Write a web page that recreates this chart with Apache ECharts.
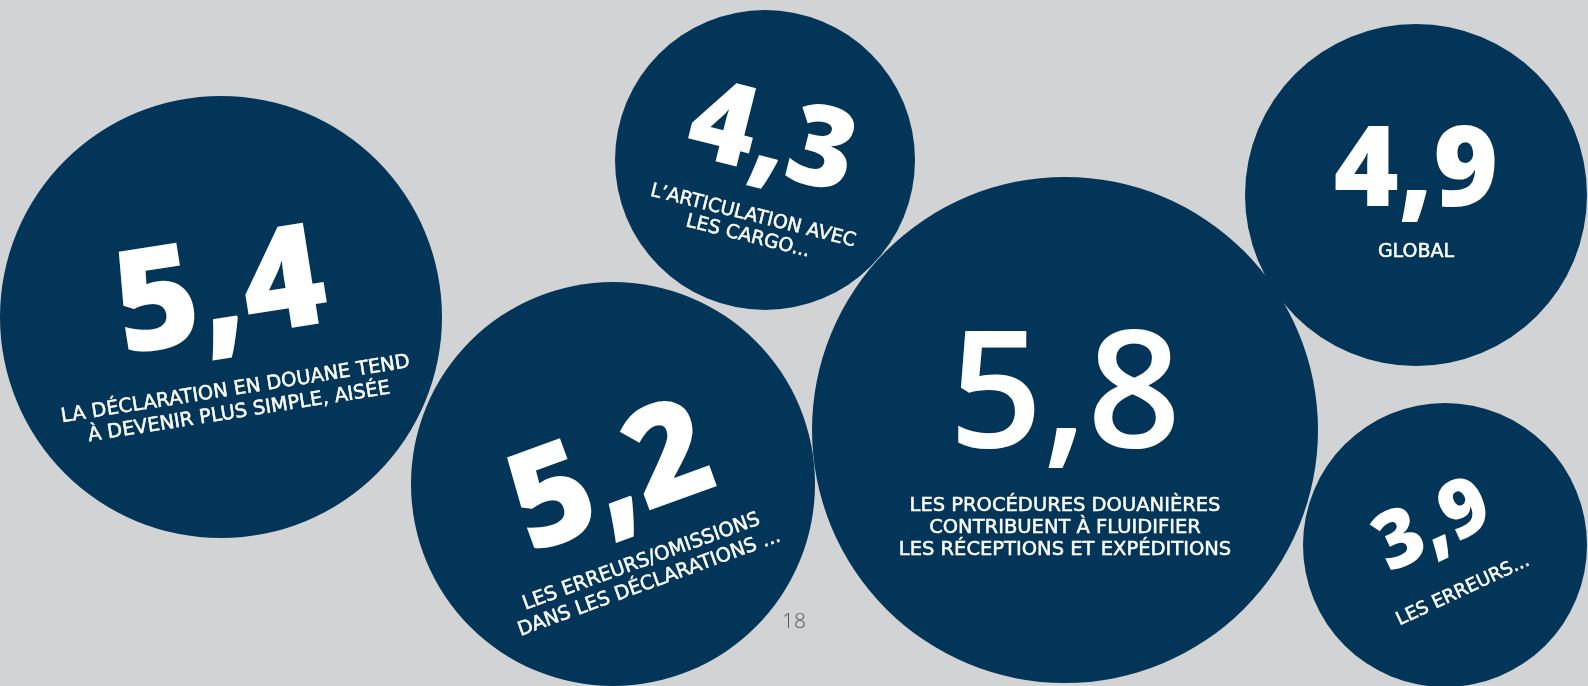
<!DOCTYPE html>
<html>
<head>
<meta charset="utf-8">
<script src="https://cdn.jsdelivr.net/npm/echarts@6/dist/echarts.min.js"></script>
<style>
  html, body { margin: 0; padding: 0; background: #d1d3d4; }
  #chart { width: 1588px; height: 686px; }
</style>
</head>
<body>
<div id="chart"></div>
<script>
// Average score per statement
const scores = [5.4, 5.2, 4.3, 5.8, 4.9, 3.9];
const statements = [
  'LA DÉCLARATION EN DOUANE TEND\nÀ DEVENIR PLUS SIMPLE, AISÉE',
  'LES ERREURS/OMISSIONS\nDANS LES DÉCLARATIONS ...',
  'L’ARTICULATION AVEC\nLES CARGO...',
  'LES PROCÉDURES DOUANIÈRES\nCONTRIBUENT À FLUIDIFIER\nLES RÉCEPTIONS ET EXPÉDITIONS',
  'GLOBAL',
  'LES ERREURS...'
];
const pageNumber = '18';

// Placement of each bubble on the page: centre, radius, text tilt and type sizes
const bubbleLayout = [
  { cx: 221,  cy: 317, r: 221, tilt: 9,   numSize: 143, numWeight: 800, numLine: 163, textSize: 19.5, textLine: 23, offset: [3, 4] },
  { cx: 613,  cy: 484, r: 202, tilt: 20,  numSize: 138, numWeight: 800, numLine: 147, textSize: 19.5, textLine: 23, offset: [0, 21] },
  { cx: 765,  cy: 160, r: 150, tilt: -14, numSize: 113, numWeight: 800, numLine: 132, textSize: 19,   textLine: 21, offset: [2, 2] },
  { cx: 1065, cy: 430, r: 253, tilt: 0,   numSize: 164, numWeight: 600, numLine: 189, textSize: 19.5, textLine: 22, offset: [0, 3] },
  { cx: 1416, cy: 195, r: 171, tilt: 0,   numSize: 111, numWeight: 800, numLine: 134, textSize: 19,   textLine: 22, offset: [0, -10] },
  { cx: 1445, cy: 545, r: 142, tilt: 25,  numSize: 80,  numWeight: 800, numLine: 120, textSize: 18.5, textLine: 20, offset: [-3, -11] }
];

const NAVY = '#023557';
const NUM_FONT = '"Open Sans", "Noto Sans", sans-serif';
const TEXT_FONT = '"DejaVu Sans", "Open Sans", sans-serif';

const fmt = v => v.toFixed(1).replace('.', ',');

const bubbles = scores.map((score, i) => {
  const L = bubbleLayout[i];
  const lines = statements[i].split('\n').map(s => '{t|' + s + '}').join('\n');
  return {
    name: statements[i],
    value: [L.cx, L.cy, score],
    symbolSize: L.r * 2,
    label: {
      show: true,
      position: 'inside',
      rotate: L.tilt,
      offset: L.offset,
      align: 'center',
      formatter: '{n|' + fmt(score) + '}\n' + lines,
      rich: {
        n: {
          fontFamily: NUM_FONT,
          fontSize: L.numSize,
          fontWeight: L.numWeight,
          lineHeight: L.numLine,
          color: '#ffffff',
          align: 'center'
        },
        t: {
          fontFamily: TEXT_FONT,
          fontSize: L.textSize,
          fontWeight: 'normal',
          lineHeight: L.textLine,
          color: '#ffffff',
          textBorderColor: '#ffffff',
          textBorderWidth: 0.5,
          align: 'center'
        }
      }
    }
  };
});

const chart = echarts.init(document.getElementById('chart'), null, { renderer: 'canvas' });
chart.setOption({
  backgroundColor: '#d1d3d4',
  animation: false,
  title: {
    text: pageNumber,
    left: 777,
    top: 607,
    textStyle: { fontFamily: NUM_FONT, fontSize: 21, fontWeight: 300, color: '#58595b' }
  },
  grid: { left: 0, right: 0, top: 0, bottom: 0 },
  xAxis: { type: 'value', min: 0, max: 1588, show: false },
  yAxis: { type: 'value', min: 0, max: 686, inverse: true, show: false },
  series: [{
    type: 'scatter',
    symbol: 'circle',
    itemStyle: { color: NAVY, opacity: 1 },
    emphasis: { disabled: true },
    silent: true,
    clip: false,
    data: bubbles
  }]
});
</script>
</body>
</html>
